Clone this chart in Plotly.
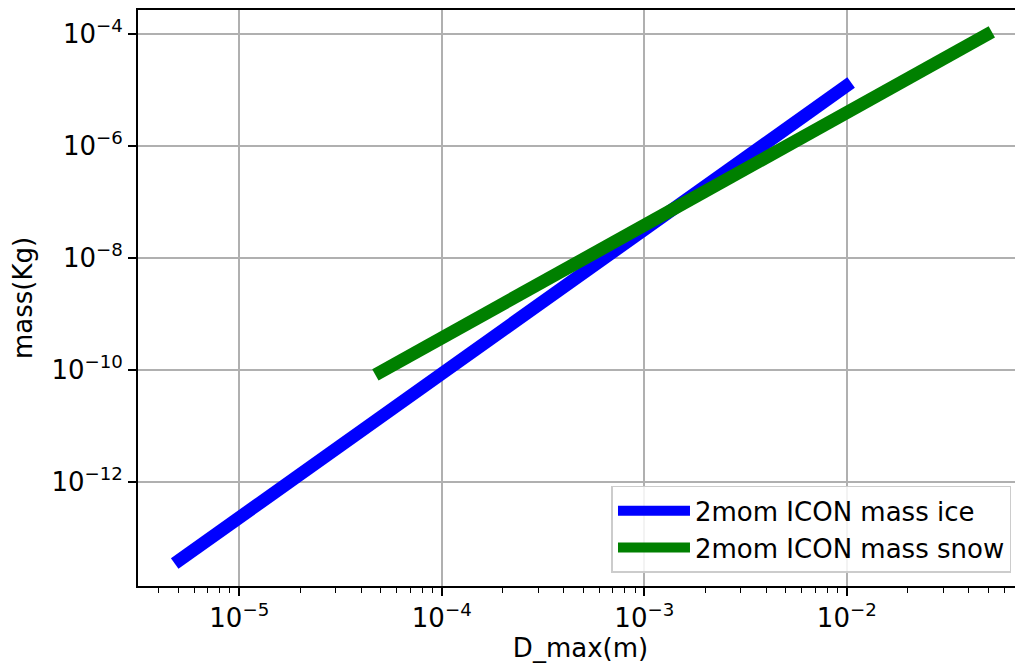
import plotly.graph_objects as go

# Data (straight lines on log-log axes, endpoints)
ice_D = [4.8e-6, 1.05e-2]
ice_m = [3.5e-14, 1.36e-5]
snow_D = [4.7e-5, 5.2e-2]
snow_m = [8.2e-11, 1.09e-4]

x_tickvals = [1e-5, 1e-4, 1e-3, 1e-2]
x_ticktext = ["10<sup>\u22125</sup>", "10<sup>\u22124</sup>", "10<sup>\u22123</sup>", "10<sup>\u22122</sup>"]
y_tickvals = [1e-12, 1e-10, 1e-8, 1e-6, 1e-4]
y_ticktext = ["10<sup>\u221212</sup>", "10<sup>\u221210</sup>", "10<sup>\u22128</sup>", "10<sup>\u22126</sup>", "10<sup>\u22124</sup>"]

minor_x = [m * 10.0 ** e for e in range(-6, -1) for m in range(2, 10)]

fig = go.Figure()
fig.add_trace(go.Scatter(x=ice_D, y=ice_m, mode="lines", name="2mom ICON mass ice",
                         line=dict(color="#0000ff", width=13)))
fig.add_trace(go.Scatter(x=snow_D, y=snow_m, mode="lines", name="2mom ICON mass snow",
                         line=dict(color="#008000", width=13)))

axis_common = dict(
    showline=True, linecolor="black", linewidth=1.8,
    ticks="outside", ticklen=8, tickwidth=1.5, tickcolor="black",
    showgrid=True, gridcolor="#b0b0b0", gridwidth=1.5, zeroline=False,
    tickfont=dict(family="DejaVu Sans", size=26, color="black"),
    automargin=False,
)

# page body adds an 8px offset; margins compensate so the plot area sits where it does in the reference
fig.update_layout(
    width=1023, height=668,
    margin=dict(l=130, r=8, t=2, b=90),
    paper_bgcolor="white", plot_bgcolor="white",
    font=dict(family="DejaVu Sans", color="black"),
    xaxis=dict(type="log", range=[-5.5, -1.13], tickmode="array",
               tickvals=x_tickvals, ticktext=x_ticktext, mirror=True,
               minor=dict(tickmode="array", tickvals=minor_x, ticks="outside",
                          ticklen=5, tickwidth=1.2, tickcolor="black", showgrid=False),
               title=dict(text="D_max(m)", font=dict(size=26), standoff=4),
               **axis_common),
    yaxis=dict(type="log", range=[-13.857, -3.571], tickmode="array",
               tickvals=y_tickvals, ticktext=y_ticktext, mirror=False,
               title=dict(text="mass(Kg)", font=dict(size=26), standoff=20),
               **axis_common),
    legend=dict(x=0.987, y=0.023, xanchor="right", yanchor="bottom",
                bgcolor="rgba(255,255,255,0.85)", bordercolor="#cccccc", borderwidth=1.5,
                font=dict(family="DejaVu Sans", size=26, color="black"),
                itemwidth=72, tracegroupgap=2),
    showlegend=True,
)

fig.write_html("out.html")
